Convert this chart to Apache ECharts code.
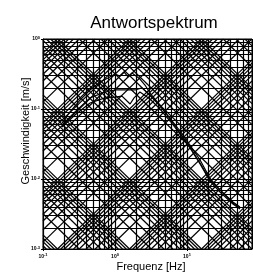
<!DOCTYPE html>
<html><head><meta charset="utf-8">
<script src="https://cdn.jsdelivr.net/npm/echarts@6/dist/echarts.min.js"></script>
<style>html,body{margin:0;padding:0;background:#fff}#c{width:253px;height:274px}</style>
</head><body><div id="c"></div>
<script>
// Frequency [Hz] and velocity [m/s]
const freq1 = [0.184,0.237,0.327,0.45,0.619,0.80,1.0,1.17,1.33,1.52,1.72,1.96,2.22,2.61,3.06,4.22,5.81,8.0,11.0,15.2,20.8,28.7,43.5,54.5];
const vel1  = [0.063,0.091,0.134,0.187,0.243,0.277,0.316,0.296,0.338,0.287,0.327,0.296,0.268,0.22,0.169,0.114,0.072,0.0454,0.0287,0.0169,0.0097,0.0070,0.00469,0.00398];
const freq2 = [0.184,0.278,0.45,0.726,1.0,1.38,1.90,2.37,3.06,4.22,5.81,8.0,11.0,15.2,20.8,28.7,43.5,54.5];
const vel2  = [0.059,0.091,0.144,0.175,0.187,0.187,0.187,0.2,0.158,0.110,0.0743,0.0485,0.0306,0.0187,0.0103,0.0070,0.00454,0.00385];
const freq3 = [0.184,0.278,0.45,0.726,1.0,1.25,1.47,1.62,1.84,2.22,3.06,4.22,5.81,8.0,11.0,15.2,20.8,28.7,43.5,54.5];
const vel3  = [0.0553,0.082,0.122,0.144,0.148,0.153,0.130,0.118,0.144,0.175,0.139,0.1,0.0674,0.044,0.0277,0.0164,0.00936,0.00652,0.0044,0.00373];

const xRange = [0.1, 80];
const yRange = [0.001, 1];
const gridMultipliers = [1,2,3,4,5,6,7,8,9];
const decades = [-12,-11,-10,-9,-8,-7,-6,-5,-4,-3,-2,-1,0,1,2,3,4,5];

// tripartite grid: frequency, velocity, displacement and acceleration lines
const segs = [];
const LF = [Math.log10(xRange[0]), Math.log10(xRange[1])];
const LV = [Math.log10(yRange[0]), Math.log10(yRange[1])];
const TWO_PI = 2*Math.PI;
for (const n of decades) for (const k of gridMultipliers) {
  const val = k*Math.pow(10,n);
  if (val>=xRange[0]*0.9999 && val<=xRange[1]) segs.push({coords:[[val,yRange[0]],[val,yRange[1]]]});
  if (val>=yRange[0]*0.9999 && val<=yRange[1]*1.0001) segs.push({coords:[[xRange[0],val],[xRange[1],val]]});
  // displacement: v = 2*pi*f*d
  let c = Math.log10(TWO_PI*val);
  let lo = Math.max(LF[0], LV[0]-c), hi = Math.min(LF[1], LV[1]-c);
  if (hi-lo>1e-4) segs.push({coords:[[Math.pow(10,lo),Math.pow(10,lo+c)],[Math.pow(10,hi),Math.pow(10,hi+c)]]});
  // acceleration: v = a/(2*pi*f)
  c = Math.log10(val/TWO_PI);
  lo = Math.max(LF[0], c-LV[1]); hi = Math.min(LF[1], c-LV[0]);
  if (hi-lo>1e-4) segs.push({coords:[[Math.pow(10,lo),Math.pow(10,c-lo)],[Math.pow(10,hi),Math.pow(10,c-hi)]]});
}

function pow10Label(value){
  const p = Math.round(Math.log10(value));
  if (Math.abs(Math.log10(value)-p) > 1e-6) return '';
  return '{a|10}{b|' + p + '}';
}
const labelRich = {
  a:{fontSize:5, fontFamily:'Liberation Sans', fontWeight:'bold', color:'#000'},
  b:{fontSize:4, fontFamily:'Liberation Sans', fontWeight:'bold', color:'#000', padding:[0,0,3,0]}
};

const chart = echarts.init(document.getElementById('c'), null, {renderer:'canvas'});
const mk = (f,v)=>f.map((x,i)=>[x,v[i]]);
chart.setOption({
  animation:false,
  backgroundColor:'#fff',
  title:{text:'Antwortspektrum', left:149, top:10, textAlign:'center',
    textStyle:{fontSize:17, fontWeight:'normal', fontFamily:'Liberation Sans', color:'#000'}},
  grid:{left:43, right:1, top:39, bottom:25, show:true, borderColor:'#000', borderWidth:1, backgroundColor:'#fff'},
  xAxis:{type:'log', logBase:10, min:xRange[0], max:xRange[1],
    axisLine:{show:true, lineStyle:{color:'#000'}},
    axisTick:{show:true, length:2, lineStyle:{color:'#000'}},
    splitLine:{show:false}, minorTick:{show:false},
    axisLabel:{formatter:pow10Label, rich:labelRich, margin:4, showMaxLabel:false}},
  yAxis:{type:'log', logBase:10, min:yRange[0], max:yRange[1],
    axisLine:{show:true, lineStyle:{color:'#000'}},
    axisTick:{show:true, length:2, lineStyle:{color:'#000'}},
    splitLine:{show:false},
    axisLabel:{formatter:pow10Label, rich:labelRich, margin:3}},
  graphic:[
    {type:'text', x:151, y:267, style:{text:'Frequenz [Hz]', fontSize:11, fontFamily:'Liberation Sans', fill:'#000', textAlign:'center', textVerticalAlign:'middle'}},
    {type:'text', x:26, y:131, rotation:Math.PI/2, style:{text:'Geschwindigkeit [m/s]', fontSize:11, fontFamily:'Liberation Sans', fill:'#000', textAlign:'center', textVerticalAlign:'middle'}}
  ],
  series:[
    {type:'lines', coordinateSystem:'cartesian2d', data:segs, silent:true, z:1,
      lineStyle:{color:'#000', width:1.2, opacity:1}},
    {type:'line', data:mk(freq1,vel1), showSymbol:false, z:3, lineStyle:{color:'#000', width:1.2}},
    {type:'line', data:mk(freq2,vel2), showSymbol:false, z:3, lineStyle:{color:'#000', width:1.2}},
    {type:'line', data:mk(freq3,vel3), showSymbol:false, z:3, lineStyle:{color:'#000', width:1.2}}
  ]
});
</script></body></html>
